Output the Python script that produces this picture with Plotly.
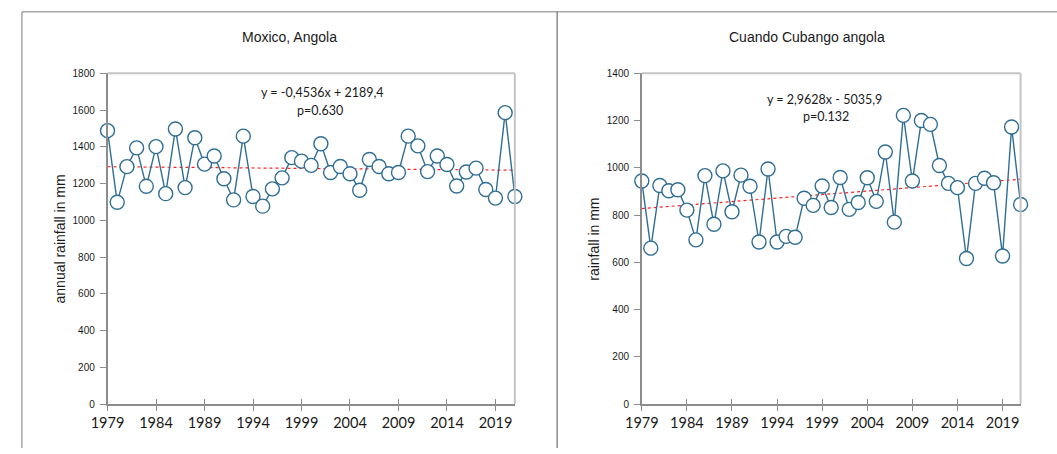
import plotly.graph_objects as go

years = list(range(1979, 2022))

moxico = [1488, 1098, 1292, 1394, 1185, 1401, 1145, 1497, 1178, 1449,
          1306, 1350, 1226, 1111, 1458, 1130, 1077, 1171, 1231, 1341,
          1322, 1299, 1417, 1260, 1293, 1253, 1164, 1331, 1293, 1253,
          1260, 1458, 1405, 1265, 1350, 1304, 1187, 1263, 1284, 1168,
          1121, 1586, 1130]

cuando = [944, 660, 925, 903, 907, 821, 695, 967, 761, 987,
          814, 969, 922, 686, 995, 686, 710, 706, 871, 841,
          923, 832, 959, 824, 853, 958, 858, 1067, 770, 1222,
          944, 1200, 1184, 1010, 934, 916, 616, 934, 956, 937,
          627, 1173, 845]

moxico_slope, moxico_int = -0.4536, 2189.4
cuando_slope, cuando_int = 2.9628, -5035.9

xtick_vals = [1979, 1984, 1989, 1994, 1999, 2004, 2009, 2014, 2019]

W, H = 1057, 454
def px(x): return x / W
def py(y): return 1 - y / H

line_col = "#2f6e93"
axis_col = "#8c8c8c"
frame_col = "#c4c4c4"
text_col = "#1a1a1a"

fig = go.Figure()

def add_series(xa, ya, vals, slope, inter):
    fig.add_trace(go.Scatter(
        x=years, y=[slope * yr + inter for yr in years], mode="lines",
        line=dict(color="#ff2020", width=1.2, dash="dot"),
        xaxis=xa, yaxis=ya, showlegend=False, hoverinfo="skip"))
    fig.add_trace(go.Scatter(
        x=years, y=vals, mode="lines+markers",
        line=dict(color=line_col, width=1.4),
        marker=dict(symbol="circle", size=14, color="white",
                    line=dict(color=line_col, width=1.4)),
        cliponaxis=False, xaxis=xa, yaxis=ya, showlegend=False))

add_series("x", "y", moxico, moxico_slope, moxico_int)
add_series("x2", "y2", cuando, cuando_slope, cuando_int)

ydom = [py(409), py(70)]

def xaxis_cfg(d0, d1, anchor):
    return dict(domain=[px(d0), px(d1)], range=[1979, 2021], anchor=anchor,
                tickmode="array", tickvals=xtick_vals,
                ticks="outside", ticklen=5, tickwidth=1.2, tickcolor=axis_col,
                showline=True, linecolor=axis_col, linewidth=1.5,
                showgrid=False, zeroline=False,
                tickfont=dict(family="Lato", size=14.5, color=text_col))

def xaxis_inner(d0, d1, anchor, overlay):
    return dict(domain=[px(d0), px(d1)], range=[1979, 2021], anchor=anchor,
                overlaying=overlay, tickmode="array", tickvals=xtick_vals,
                ticks="inside", ticklen=5, tickwidth=1.2, tickcolor=axis_col,
                showticklabels=False, showline=False, showgrid=False,
                zeroline=False)

def yaxis_cfg(anchor, top):
    return dict(domain=ydom, range=[0, top], dtick=200, anchor=anchor,
                ticks="outside", ticklen=6, tickwidth=1.2, tickcolor=axis_col,
                showline=True, linecolor=axis_col, linewidth=1.5,
                showgrid=False, zeroline=False, ticklabelstandoff=3,
                tickfont=dict(family="Liberation Sans", size=10, color=text_col))

# dummy traces for inner tick axes
fig.add_trace(go.Scatter(x=[1979], y=[0], mode="markers", marker=dict(opacity=0),
                         xaxis="x3", yaxis="y", showlegend=False, hoverinfo="skip"))
fig.add_trace(go.Scatter(x=[1979], y=[0], mode="markers", marker=dict(opacity=0),
                         xaxis="x4", yaxis="y2", showlegend=False, hoverinfo="skip"))

fig.update_layout(
    width=W, height=H, margin=dict(l=0, r=0, t=0, b=0),
    paper_bgcolor="white", plot_bgcolor="white",
    xaxis=xaxis_cfg(92, 506, "y"),
    xaxis2=xaxis_cfg(635, 1020, "y2"),
    xaxis3=xaxis_inner(92, 506, "y", "x"),
    xaxis4=xaxis_inner(635, 1020, "y2", "x2"),
    yaxis=yaxis_cfg("x", 1800),
    yaxis2=yaxis_cfg("x2", 1400),
)

shapes = [
    # outer frame lines
    dict(type="line", xref="paper", yref="paper", x0=px(5), x1=1, y0=py(7), y1=py(7),
         line=dict(color="#a8a8a8", width=1.5)),
    dict(type="line", xref="paper", yref="paper", x0=px(5), x1=px(5), y0=py(7), y1=0,
         line=dict(color="#a8a8a8", width=1.5)),
    dict(type="line", xref="paper", yref="paper", x0=px(549), x1=px(549), y0=py(7), y1=0,
         line=dict(color="#8a8a8a", width=1.5)),
]
for xr, yr in (("x domain", "y domain"), ("x2 domain", "y2 domain")):
    shapes.append(dict(type="line", xref=xr, yref=yr, x0=0, x1=1, y0=1, y1=1,
                       line=dict(color=frame_col, width=2)))
    shapes.append(dict(type="line", xref=xr, yref=yr, x0=1, x1=1, y0=0, y1=1,
                       line=dict(color=frame_col, width=2)))
fig.update_layout(shapes=shapes)

ann = []
def txt(x, y, s, size=14, fam="Liberation Sans", angle=0):
    ann.append(dict(xref="paper", yref="paper", x=px(x), y=py(y), text=s,
                    showarrow=False, xanchor="center", yanchor="middle",
                    textangle=angle, font=dict(family=fam, size=size, color=text_col)))

txt(277, 33, "Moxico, Angola")
txt(803, 33, "Cuando Cubango angola")
txt(44, 240, "annual rainfall in mm", angle=-90)
txt(587, 240, "rainfall in mm", angle=-90)
txt(310, 90, "y = -0,4536x + 2189,4", size=12.5, fam="Lato")
txt(308, 108, "p=0.630", size=12.5, fam="Lato")
txt(821, 97, "y = 2,9628x - 5035,9", size=12.5, fam="Lato")
txt(822, 114, "p=0.132", size=12.5, fam="Lato")
fig.update_layout(annotations=ann)

fig.write_html("out.html")
